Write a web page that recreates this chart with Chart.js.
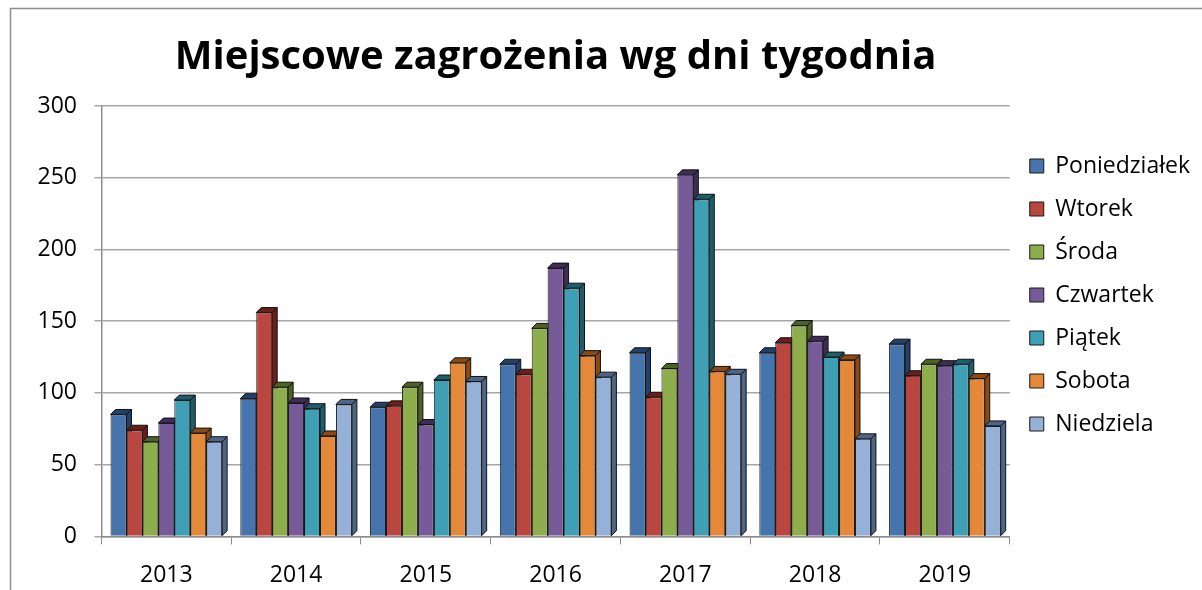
<!DOCTYPE html>
<html>
<head>
<meta charset="utf-8">
<script src="https://cdn.jsdelivr.net/npm/chart.js@4/dist/chart.umd.min.js"></script>
<style>
  html, body { margin: 0; padding: 0; background: #fff; }
  #wrap { width: 1202px; height: 590px; }
</style>
</head>
<body>
<div id="wrap"><canvas id="c" width="1202" height="590"></canvas></div>
<script>
const years = ['2013', '2014', '2015', '2016', '2017', '2018', '2019'];

const poniedzialek = [85, 96, 90, 120, 128, 128, 134];
const wtorek       = [74, 156, 91, 113, 97, 135, 112];
const sroda        = [66, 104, 104, 145, 117, 147, 120];
const czwartek     = [79, 93, 78, 187, 252, 136, 119];
const piatek       = [95, 89, 109, 173, 235, 125, 120];
const sobota       = [72, 70, 121, 126, 115, 123, 110];
const niedziela    = [66, 92, 108, 111, 113, 68, 77];

const seriesNames = ['Poniedziałek', 'Wtorek', 'Środa', 'Czwartek', 'Piątek', 'Sobota', 'Niedziela'];
const seriesData = [poniedzialek, wtorek, sroda, czwartek, piatek, sobota, niedziela];
const colors = ['#4674ad', '#b9463f', '#8ead4d', '#765b98', '#3f9fb5', '#e4883a', '#95b1d8'];
const sideColors = ['#23406a', '#6a1f1c', '#4d6325', '#3e2d58', '#1e5d6c', '#8a4a14', '#4d6688'];

const FONT = '"Open Sans", "Noto Sans", sans-serif';

// side and top faces for the fake 3D look, drawn under the front faces
const depth3d = {
  id: 'depth3d',
  beforeDatasetsDraw(chart) {
    const ctx = chart.ctx;
    const d = 5;
    chart.data.datasets.forEach((ds, i) => {
      const meta = chart.getDatasetMeta(i);
      meta.data.forEach(bar => {
        const l = bar.x - bar.width / 2, r = bar.x + bar.width / 2;
        const t = bar.y, b = bar.base;
        ctx.save();
        ctx.fillStyle = sideColors[i];
        ctx.strokeStyle = '#111';
        ctx.lineWidth = 1;
        ctx.beginPath();
        ctx.moveTo(r, t);
        ctx.lineTo(r + d, t - d);
        ctx.lineTo(r + d, b - d);
        ctx.lineTo(r, b);
        ctx.closePath();
        ctx.fill();
        ctx.stroke();
        ctx.beginPath();
        ctx.moveTo(l, t);
        ctx.lineTo(l + d, t - d);
        ctx.lineTo(r + d, t - d);
        ctx.lineTo(r, t);
        ctx.closePath();
        ctx.fill();
        ctx.stroke();
        ctx.restore();
      });
    });
  }
};

const frame = {
  id: 'frame',
  beforeDraw(chart) {
    const ctx = chart.ctx;
    ctx.save();
    ctx.fillStyle = '#fff';
    ctx.fillRect(0, 0, chart.width, chart.height);
    ctx.strokeStyle = '#8c8c8c';
    ctx.lineWidth = 1.5;
    ctx.strokeRect(10.5, 8.5, 1300, 700);
    ctx.restore();
  }
};

new Chart(document.getElementById('c'), {
  type: 'bar',
  data: {
    labels: years,
    datasets: seriesNames.map((name, i) => ({
      label: name,
      data: seriesData[i],
      backgroundColor: colors[i],
      borderColor: '#1a1a1a',
      borderWidth: 1,
      barPercentage: 1.0,
      categoryPercentage: 0.86
    }))
  },
  options: {
    responsive: false,
    animation: false,
    devicePixelRatio: 1,
    layout: { padding: { left: 20, right: 2, top: -16, bottom: -16 } },
    plugins: {
      title: {
        display: true,
        text: 'Miejscowe zagrożenia wg dni tygodnia',
        color: '#000',
        font: { family: FONT, size: 40, weight: 'bold' },
        fullSize: false,
        padding: { top: 50, bottom: 24 }
      },
      legend: {
        position: 'right',
        align: 'center',
        labels: {
          color: '#000',
          font: { family: FONT, size: 23 },
          boxWidth: 14,
          boxHeight: 14,
          padding: 20
        }
      },
      tooltip: { enabled: false }
    },
    scales: {
      x: {
        grid: {
          display: true,
          drawOnChartArea: false,
          drawTicks: true,
          tickLength: 8,
          color: '#8c8c8c',
          offset: true
        },
        border: { color: '#8c8c8c', width: 1.5 },
        ticks: { color: '#000', font: { family: FONT, size: 23 }, padding: 17 }
      },
      y: {
        min: 0,
        max: 300,
        ticks: { stepSize: 50, color: '#000', font: { family: FONT, size: 23 }, padding: 17.5 },
        grid: { color: '#a6a6a6', lineWidth: 1.5, tickLength: 7 },
        border: { color: '#8c8c8c', width: 1.5 }
      }
    }
  },
  plugins: [frame, depth3d]
});
</script>
</body>
</html>
